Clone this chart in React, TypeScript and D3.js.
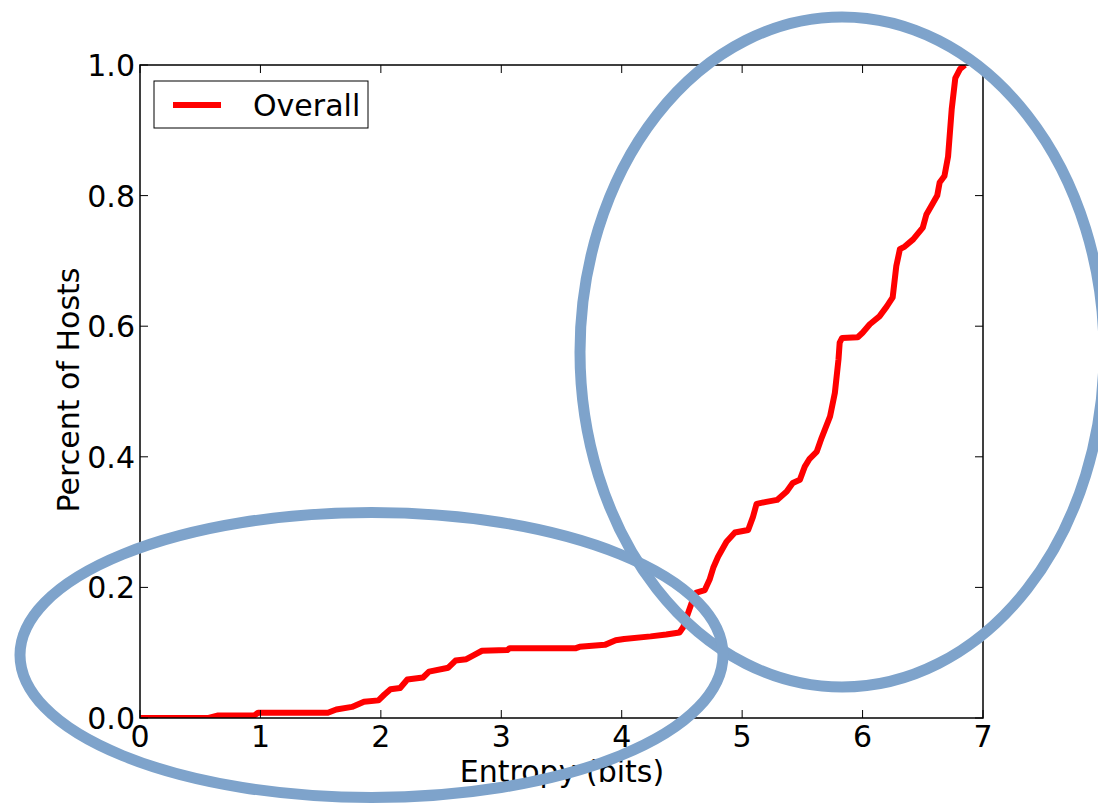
import React from "react";
import * as d3 from "d3";

const entropyX = [0, 0.57, 0.65, 0.95, 0.98, 1.56, 1.63, 1.76, 1.86, 1.98, 2.03, 2.08, 2.16, 2.22, 2.35, 2.4, 2.56, 2.62, 2.71, 2.78, 2.84, 3.05, 3.07, 3.62, 3.65, 3.86, 3.95, 4.02, 4.24, 4.37, 4.48, 4.51, 4.55, 4.59, 4.62, 4.69, 4.73, 4.76, 4.8, 4.87, 4.94, 5.05, 5.09, 5.12, 5.2, 5.29, 5.37, 5.42, 5.48, 5.52, 5.56, 5.62, 5.66, 5.73, 5.77, 5.8, 5.81, 5.83, 5.96, 6.0, 6.06, 6.14, 6.2, 6.25, 6.28, 6.31, 6.35, 6.42, 6.5, 6.53, 6.58, 6.62, 6.64, 6.68, 6.71, 6.74, 6.77, 6.81, 6.85];
const overallCdf = [0, 0, 0.004, 0.004, 0.008, 0.008, 0.013, 0.017, 0.025, 0.027, 0.036, 0.044, 0.046, 0.059, 0.062, 0.071, 0.077, 0.088, 0.09, 0.097, 0.103, 0.104, 0.107, 0.107, 0.109, 0.112, 0.119, 0.121, 0.125, 0.128, 0.131, 0.139, 0.16, 0.181, 0.192, 0.196, 0.212, 0.23, 0.247, 0.27, 0.284, 0.288, 0.308, 0.328, 0.331, 0.334, 0.347, 0.36, 0.365, 0.385, 0.397, 0.408, 0.429, 0.462, 0.498, 0.549, 0.575, 0.582, 0.583, 0.59, 0.603, 0.615, 0.63, 0.644, 0.692, 0.718, 0.722, 0.733, 0.751, 0.771, 0.787, 0.8, 0.82, 0.83, 0.86, 0.932, 0.98, 0.994, 1.0];
const xTicks = [0, 1, 2, 3, 4, 5, 6, 7];
const yTicks = [0, 0.2, 0.4, 0.6, 0.8, 1.0];
const seriesName = "Overall";
const xLabel = "Entropy (bits)";
const yLabel = "Percent of Hosts";

const W = 1098;
const H = 803;
const L = 140, R = 983, T = 65, B = 718;
const FONT = "'DejaVu Sans', sans-serif";

export default function App() {
  const x = d3.scaleLinear().domain([0, 7]).range([L, R]);
  const y = d3.scaleLinear().domain([0, 1]).range([B, T]);
  const pts = entropyX.map((v, i) => [v, overallCdf[i]] as [number, number]);
  const line = d3
    .line<[number, number]>()
    .x((d) => x(d[0]))
    .y((d) => y(d[1]))
    .curve(d3.curveLinear);
  const tick = 8;
  return (
    <svg width={W} height={H} style={{ position: "absolute", left: 0, top: 0, background: "#fff" }}>
      <defs>
        <clipPath id="plotClip">
          <rect x={L} y={T} width={R - L} height={B - T} />
        </clipPath>
      </defs>
      <rect x={0} y={0} width={W} height={H} fill="#fff" />
      <path d={line(pts) || ""} fill="none" stroke="#ff0000" strokeWidth={6} strokeLinejoin="round" clipPath="url(#plotClip)" />
      {xTicks.map((t) => (
        <g key={"x" + t}>
          <line x1={x(t)} x2={x(t)} y1={B} y2={B - tick} stroke="#000" strokeWidth={1} />
          <line x1={x(t)} x2={x(t)} y1={T} y2={T + tick} stroke="#000" strokeWidth={1} />
          <text x={x(t)} y={747} fontFamily={FONT} fontSize={30} textAnchor="middle">{t}</text>
        </g>
      ))}
      {yTicks.map((t) => (
        <g key={"y" + t}>
          <line x1={L} x2={L + tick} y1={y(t)} y2={y(t)} stroke="#000" strokeWidth={1} />
          <line x1={R} x2={R - tick} y1={y(t)} y2={y(t)} stroke="#000" strokeWidth={1} />
          <text x={135} y={y(t) + 11} fontFamily={FONT} fontSize={30} textAnchor="end">{d3.format(".1f")(t)}</text>
        </g>
      ))}
      <rect x={L} y={T} width={R - L} height={B - T} fill="none" stroke="#000" strokeWidth={1.5} />
      <text x={562} y={782} fontFamily={FONT} fontSize={30} textAnchor="middle">{xLabel}</text>
      <text transform={`translate(79,390) rotate(-90)`} fontFamily={FONT} fontSize={30} textAnchor="middle">{yLabel}</text>
      <g>
        <rect x={154} y={81} width={214} height={47} fill="#fff" stroke="#000" strokeWidth={1} />
        <line x1={173} x2={221} y1={105} y2={105} stroke="#ff0000" strokeWidth={6} />
        <text x={253} y={116} fontFamily={FONT} fontSize={30}>{seriesName}</text>
      </g>
      <ellipse cx={842} cy={352} rx={262} ry={335} fill="none" stroke="#7ea3cb" strokeWidth={11} />
      <ellipse cx={371.5} cy={655} rx={351.5} ry={142.5} fill="none" stroke="#7ea3cb" strokeWidth={11} />
    </svg>
  );
}
